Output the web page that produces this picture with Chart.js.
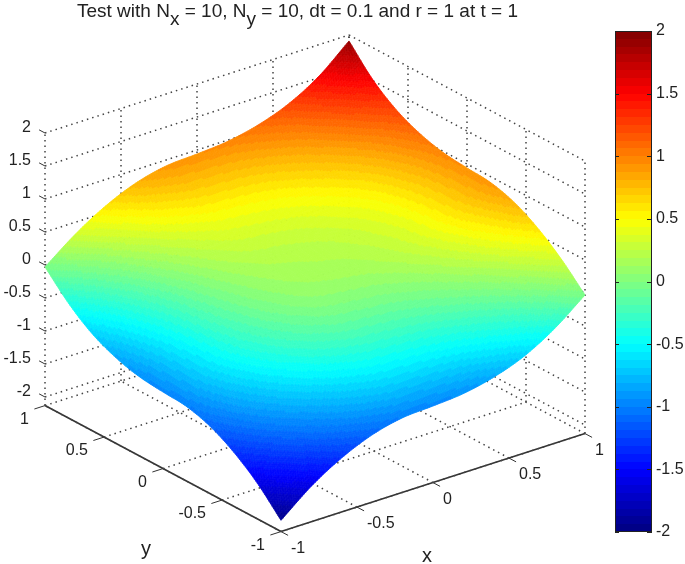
<!DOCTYPE html>
<html>
<head>
<meta charset="utf-8">
<title>Test with Nx = 10, Ny = 10</title>
<script src="https://cdn.jsdelivr.net/npm/chart.js@4"></script>
<style>
  html, body { margin:0; padding:0; background:#fff; overflow:hidden; }
  #wrap { position:relative; width:685px; height:564px; }
  #surface { position:absolute; left:0; top:0; }
  #colorbar { position:absolute; left:605px; top:0; }
</style>
</head>
<body>
<div id="wrap">
  <canvas id="surface" width="685" height="564"></canvas>
  <canvas id="colorbar" width="80" height="564"></canvas>
</div>
<script>
// Data
const xGrid = [-1,-0.8,-0.6,-0.4,-0.2,0,0.2,0.4,0.6,0.8,1];
const yGrid = [-1,-0.8,-0.6,-0.4,-0.2,0,0.2,0.4,0.6,0.8,1];
// one row per y, one column per x
const zRowYm10 = [-1.96,-1.59,-1.31,-1.11,-1.00,-0.97,-0.93,-0.83,-0.66,-0.39,-0.03];
const zRowYm08 = [-1.59,-1.24,-0.96,-0.76,-0.63,-0.59,-0.54,-0.43,-0.26,0.00,0.32];
const zRowYm06 = [-1.31,-0.96,-0.68,-0.46,-0.33,-0.28,-0.23,-0.12,0.05,0.30,0.60];
const zRowYm04 = [-1.11,-0.76,-0.46,-0.23,-0.09,-0.05,-0.01,0.09,0.26,0.51,0.80];
const zRowYm02 = [-1.00,-0.62,-0.31,-0.08,0.06,0.10,0.13,0.22,0.38,0.63,0.91];
const zRowY00  = [-0.97,-0.57,-0.22,0.01,0.13,0.17,0.20,0.28,0.42,0.66,0.94];
const zRowY02  = [-0.93,-0.52,-0.15,0.08,0.19,0.22,0.26,0.34,0.48,0.71,0.98];
const zRowY04  = [-0.83,-0.42,-0.06,0.17,0.29,0.32,0.36,0.45,0.59,0.81,1.08];
const zRowY06  = [-0.66,-0.25,0.09,0.31,0.43,0.47,0.51,0.61,0.77,0.99,1.25];
const zRowY08  = [-0.39,0.00,0.32,0.54,0.66,0.69,0.73,0.83,0.99,1.26,1.52];
const zRowY10  = [-0.03,0.32,0.60,0.80,0.91,0.94,0.98,1.08,1.25,1.52,1.91];
const zRows = [zRowYm10,zRowYm08,zRowYm06,zRowYm04,zRowYm02,zRowY00,zRowY02,zRowY04,zRowY06,zRowY08,zRowY10];

const xTicks = [-1,-0.5,0,0.5,1];
const yTicks = [-1,-0.5,0,0.5,1];
const zTicks = [-2,-1.5,-1,-0.5,0,0.5,1,1.5,2];
const colorTicks = [-2,-1.5,-1,-0.5,0,0.5,1,1.5,2];

const zFloor = -2.13;
const zTop = 2;
const TEXT = '#222';
const FONT = '16px "Liberation Sans", Arial, sans-serif';

// view: fixed oblique projection onto the chart's x/y scales
function proj(x, y, z) {
  return { x: 315 + 152*x - 118*y, y: 279 - 49*x - 63*y - 66*z };
}

// MATLAB jet, 64 levels
function jet(v) {
  const lvl = Math.min(63, Math.max(0, Math.floor((v + 2) / 4 * 64)));
  const t = (lvl + 0.5) / 64;
  const c = k => Math.round(255 * Math.min(1, Math.max(0, 1.5 - Math.abs(4*t - k))));
  return `rgb(${c(3)},${c(2)},${c(1)})`;
}

// smooth shading between the grid nodes
function spline(p0, p1, p2, p3, t) {
  return 0.5 * (2*p1 + (p2-p0)*t + (2*p0-5*p1+4*p2-p3)*t*t + (3*p1-p0-3*p2+p3)*t*t*t);
}
function rowAt(row, i, u) {
  const n = row.length - 1;
  const p0 = i > 0 ? row[i-1] : 2*row[0]-row[1];
  const p3 = i+2 <= n ? row[i+2] : 2*row[n]-row[n-1];
  return spline(p0, row[i], row[i+1], p3, u);
}
function surfaceZ(i, j, u, v) {
  const n = zRows.length - 1;
  const z1 = rowAt(zRows[j], i, u), z2 = rowAt(zRows[j+1], i, u);
  const z0 = j > 0 ? rowAt(zRows[j-1], i, u) : 2*z1-z2;
  const z3 = j+2 <= n ? rowAt(zRows[j+2], i, u) : 2*z2-z1;
  return spline(z0, z1, z2, z3, v);
}

function dotted(a, b) {
  return { data:[proj(...a), proj(...b)], showLine:true, pointRadius:0, borderColor:'#444', borderWidth:1.5, borderDash:[1.5,4] };
}
function solid(a, b, w) {
  return { data:[proj(...a), proj(...b)], showLine:true, pointRadius:0, borderColor:'#333', borderWidth:w||1 };
}

const boxLines = [];
// back walls, y = 1 and x = 1
xTicks.forEach(x => boxLines.push(dotted([x,1,zFloor],[x,1,zTop])));
yTicks.forEach(y => boxLines.push(dotted([1,y,zFloor],[1,y,zTop])));
zTicks.forEach(z => {
  boxLines.push(dotted([-1,1,z],[1,1,z]));
  boxLines.push(dotted([1,1,z],[1,-1,z]));
});
// floor
xTicks.forEach(x => boxLines.push(dotted([x,-1,zFloor],[x,1,zFloor])));
yTicks.forEach(y => boxLines.push(dotted([-1,y,zFloor],[1,y,zFloor])));
// solid axes and tick marks
boxLines.push(solid([-1,1,zFloor],[-1,-1,zFloor],1.6));
boxLines.push(solid([-1,-1,zFloor],[1,-1,zFloor],1.6));
yTicks.forEach(y => boxLines.push(solid([-1,y,zFloor],[-1.07,y,zFloor])));
xTicks.forEach(x => boxLines.push(solid([x,-1,zFloor],[x,-1.06,zFloor])));
zTicks.forEach(z => boxLines.push(solid([-1,1,z],[-1,1.05,z])));

const nodes = [];
yGrid.forEach((y,j) => xGrid.forEach((x,i) => nodes.push(proj(x,y,zRows[j][i]))));

const surfacePlugin = {
  id:'surfacePlugin',
  afterDatasetsDraw(chart) {
    const { ctx, scales } = chart;
    const SUB = 16;
    ctx.save();
    ctx.lineWidth = 0.8;
    ctx.lineJoin = 'round';
    const pt = (x,y,z) => {
      const p = proj(x,y,z);
      return [scales.x.getPixelForValue(p.x), scales.y.getPixelForValue(p.y)];
    };
    // back corner (x=1,y=1) first, front corner last
    for (let j = yGrid.length - 2; j >= 0; j--) {
      for (let i = xGrid.length - 2; i >= 0; i--) {
        const zAt = (u,v) => surfaceZ(i,j,u,v);
        const dx = xGrid[i+1]-xGrid[i], dy = yGrid[j+1]-yGrid[j];
        for (let b = SUB-1; b >= 0; b--) {
          for (let a = SUB-1; a >= 0; a--) {
            const u0=a/SUB, u1=(a+1)/SUB, v0=b/SUB, v1=(b+1)/SUB;
            const X0=xGrid[i]+dx*u0, X1=xGrid[i]+dx*u1, Y0=yGrid[j]+dy*v0, Y1=yGrid[j]+dy*v1;
            const q = [pt(X0,Y0,zAt(u0,v0)), pt(X1,Y0,zAt(u1,v0)), pt(X1,Y1,zAt(u1,v1)), pt(X0,Y1,zAt(u0,v1))];
            const col = jet(zAt((u0+u1)/2,(v0+v1)/2));
            ctx.fillStyle = col;
            ctx.strokeStyle = col;
            ctx.beginPath();
            ctx.moveTo(q[0][0],q[0][1]);
            for (let k=1;k<4;k++) ctx.lineTo(q[k][0],q[k][1]);
            ctx.closePath();
            ctx.fill();
            ctx.stroke();
          }
        }
      }
    }
    ctx.restore();
  }
};

const labelPlugin = {
  id:'labelPlugin',
  afterDraw(chart) {
    const { ctx, scales } = chart;
    const sx = v => scales.x.getPixelForValue(v), sy = v => scales.y.getPixelForValue(v);
    ctx.save();
    ctx.fillStyle = TEXT;
    ctx.font = FONT;
    ctx.textBaseline = 'middle';
    // z ticks
    ctx.textAlign = 'right';
    zTicks.forEach(z => { const p = proj(-1,1,z); ctx.fillText(String(z), sx(p.x)-14, sy(p.y)-5); });
    // y ticks
    yTicks.forEach(y => { const p = proj(-1,y,zFloor); ctx.fillText(String(y), sx(p.x)-16, sy(p.y)+14); });
    // x ticks
    ctx.textAlign = 'left';
    xTicks.forEach(x => { const p = proj(x,-1,zFloor); ctx.fillText(String(x), sx(p.x)+10, sy(p.y)+17); });
    // axis names
    ctx.textAlign = 'center';
    ctx.font = '20px "Liberation Sans", Arial, sans-serif';
    ctx.fillText('y', 146, 549);
    ctx.fillText('x', 427, 556);
    // title with subscripts
    ctx.textAlign = 'left';
    ctx.textBaseline = 'alphabetic';
    ctx.font = '19px "Liberation Sans", Arial, sans-serif';
    const parts = [['Test with N',0],['x',1],[' = 10, N',0],['y',1],[' = 10, dt = 0.1 and r = 1 at t = 1',0]];
    let tx = 77;
    parts.forEach(([s,sub]) => {
      ctx.fillText(s, tx, sub ? 25 : 17);
      tx += ctx.measureText(s).width;
    });
    ctx.restore();
  }
};

new Chart(document.getElementById('surface'), {
  type:'scatter',
  data:{ datasets:[...boxLines, { label:'surface nodes', data:nodes, pointRadius:0 }] },
  plugins:[surfacePlugin, labelPlugin],
  options:{
    responsive:false,
    animation:false,
    layout:{ padding:0 },
    plugins:{ legend:{display:false}, tooltip:{enabled:false} },
    scales:{
      x:{ display:false, type:'linear', min:0, max:685 },
      y:{ display:false, type:'linear', min:0, max:564, reverse:true }
    }
  }
});

// colour bar
const barTicks = {
  id:'barTicks',
  afterDraw(chart) {
    const { ctx, chartArea:a, scales } = chart;
    ctx.save();
    ctx.strokeStyle = '#222';
    ctx.lineWidth = 1;
    ctx.strokeRect(a.left+0.5, a.top+0.5, a.right-a.left-1, a.bottom-a.top-1);
    ctx.beginPath();
    colorTicks.forEach(v => {
      const p = Math.round(scales.y.getPixelForValue(v)) + 0.5;
      ctx.moveTo(a.left, p); ctx.lineTo(a.left+4, p);
      ctx.moveTo(a.right-5, p); ctx.lineTo(a.right, p);
    });
    ctx.stroke();
    ctx.restore();
  }
};

function barGradient(ctx) {
  const c = ctx.chart, a = c.chartArea;
  if (!a) return '#000';
  const g = c.ctx.createLinearGradient(0, a.bottom, 0, a.top);
  for (let i = 0; i < 64; i++) {
    const col = jet(-2 + (i + 0.5) / 16);
    g.addColorStop(i/64, col);
    g.addColorStop((i+1)/64, col);
  }
  return g;
}

new Chart(document.getElementById('colorbar'), {
  type:'bar',
  data:{ labels:['z'], datasets:[{ data:[[-2,2]], backgroundColor:barGradient, barPercentage:1, categoryPercentage:1, borderWidth:0 }] },
  plugins:[barTicks],
  options:{
    responsive:false,
    animation:false,
    layout:{ padding:{ left:10, top:31, bottom:32, right:0 } },
    plugins:{ legend:{display:false}, tooltip:{enabled:false} },
    scales:{
      x:{ display:false },
      y:{
        position:'right', min:-2, max:2,
        afterFit(s){ s.width = 33; },
        grid:{ display:false, drawTicks:false },
        border:{ display:false },
        ticks:{ stepSize:0.5, padding:4, color:TEXT, font:{ family:'"Liberation Sans", Arial, sans-serif', size:16 }, callback:v => String(v) }
      }
    }
  }
});
</script>
</body>
</html>
